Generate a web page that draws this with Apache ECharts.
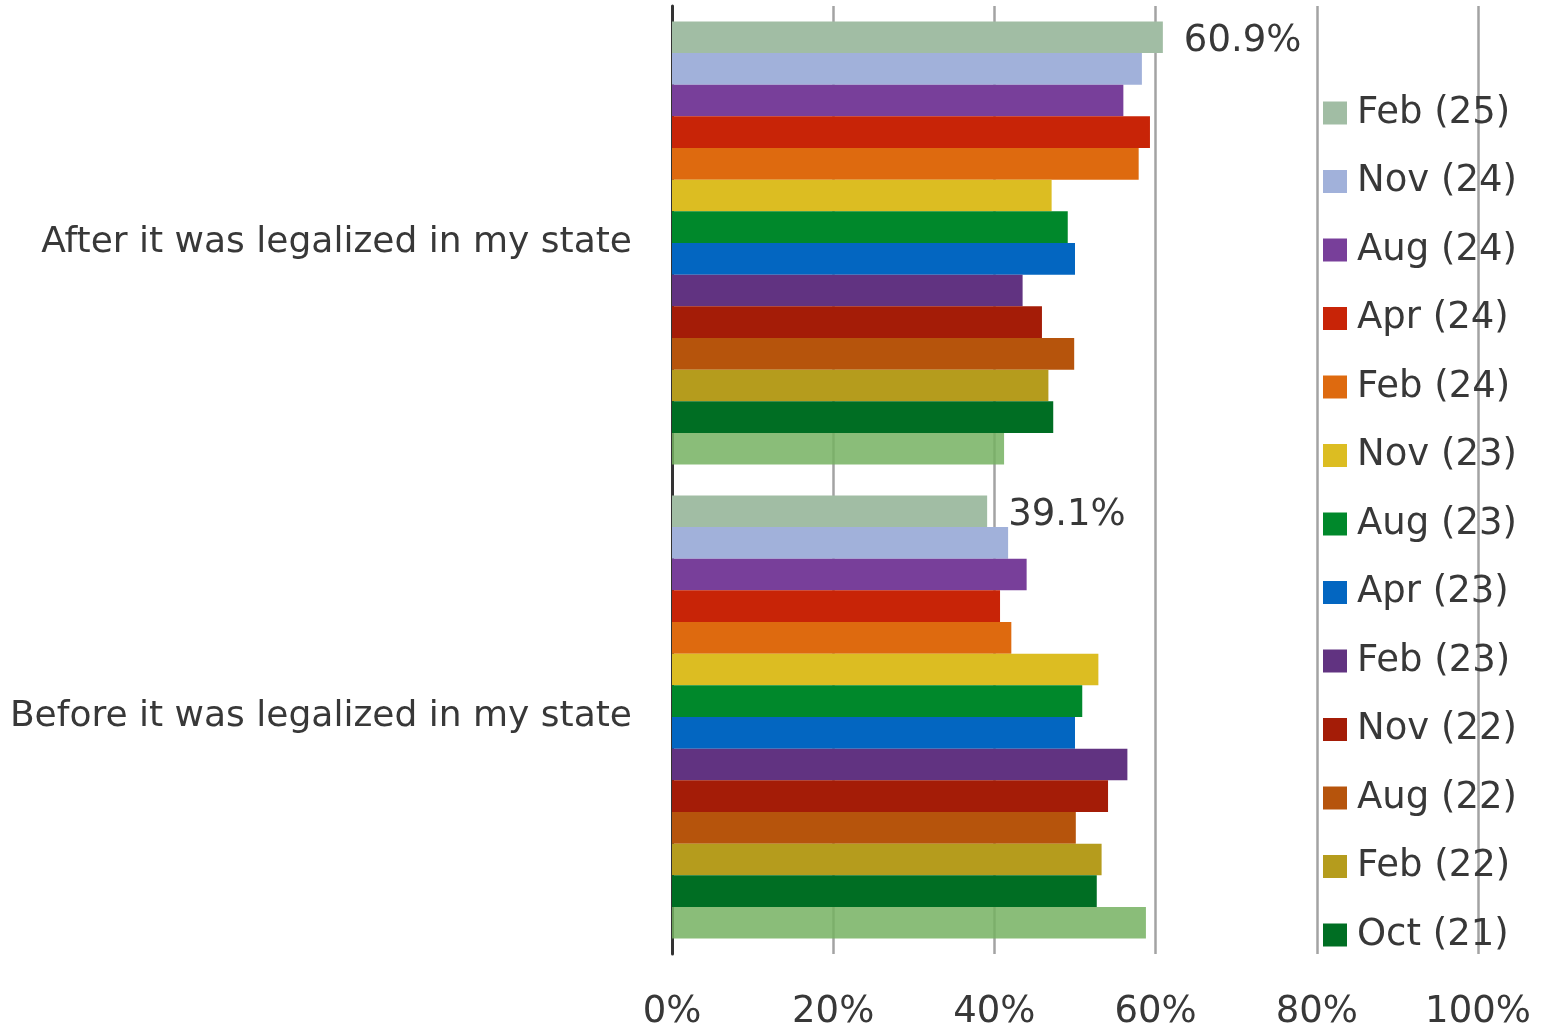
<!DOCTYPE html>
<html>
<head>
<meta charset="utf-8">
<script src="https://cdn.jsdelivr.net/npm/echarts@6/dist/echarts.min.js"></script>
<style>
  html, body { margin: 0; padding: 0; background: #ffffff; }
  #chart { width: 1552px; height: 1032px; }
</style>
</head>
<body>
<div id="chart"></div>
<script>
// Categories (top to bottom)
var categories = ['After it was legalized in my state', 'Before it was legalized in my state'];

// Survey waves (series), top bar to bottom bar within each group
var waveNames = ['Feb (25)', 'Nov (24)', 'Aug (24)', 'Apr (24)', 'Feb (24)', 'Nov (23)', 'Aug (23)',
                 'Apr (23)', 'Feb (23)', 'Nov (22)', 'Aug (22)', 'Feb (22)', 'Oct (21)', 'Earlier'];

// Values (%) for "After" and "Before", per wave
var afterValues  = [60.9, 58.3, 56.0, 59.3, 57.9, 47.1, 49.1, 50.0, 43.5, 45.9, 49.9, 46.7, 47.3, 41.2];
var beforeValues = [39.1, 41.7, 44.0, 40.7, 42.1, 52.9, 50.9, 50.0, 56.5, 54.1, 50.1, 53.3, 52.7, 58.8];

// Waves shown in the legend
var legendNames = waveNames.slice(0, 13);

// Axis ticks
var xTicks = [0, 20, 40, 60, 80, 100];

var colors = ['#A1BDA4', '#A1B1DA', '#783F9A', '#C82407', '#DE6A0F', '#DCBD22', '#00882B',
              '#0366C1', '#613381', '#A41C07', '#B6540C', '#B59C1D', '#006E23', '#76B261'];

var FONT = "'DejaVu Sans', sans-serif";
var TXT = '#383838';

var series = waveNames.map(function (name, i) {
  var s = {
    name: name,
    type: 'bar',
    barGap: '0%',
    barCategoryGap: '6.5%',
    data: [afterValues[i], beforeValues[i]],
    itemStyle: { color: colors[i], opacity: i === 13 ? 0.85 : 1 }
  };
  if (i === 0) {
    s.label = {
      show: true,
      position: 'right',
      distance: 21,
      offset: [0, 4],
      formatter: '{c}%',
      fontFamily: FONT,
      fontSize: 37,
      color: TXT
    };
  }
  return s;
});

var chart = echarts.init(document.getElementById('chart'), null, { renderer: 'canvas' });
chart.setOption({
  animation: false,
  backgroundColor: '#ffffff',
  grid: { left: 672, right: 74, top: 6, bottom: 78, containLabel: false },
  legend: {
    data: legendNames,
    orient: 'vertical',
    left: 1323,
    top: 93,
    padding: 0,
    itemWidth: 24,
    itemHeight: 23,
    itemGap: 28.5,
    icon: 'rect',
    selectedMode: false,
    textStyle: { fontFamily: FONT, fontSize: 37, color: TXT, lineHeight: 40, padding: [0, 0, 0, 5] }
  },
  xAxis: {
    type: 'value',
    min: xTicks[0],
    max: xTicks[xTicks.length - 1],
    interval: xTicks[1] - xTicks[0],
    axisLine: { show: false },
    axisTick: { show: false },
    splitLine: { show: true, lineStyle: { color: '#a3a3a3', width: 2.5 } },
    axisLabel: {
      formatter: '{value}%',
      fontFamily: FONT,
      fontSize: 37,
      color: TXT,
      margin: 40
    }
  },
  yAxis: {
    type: 'category',
    data: categories,
    inverse: true,
    axisLine: { show: true, lineStyle: { color: '#333333', width: 3 } },
    axisTick: { show: false },
    axisLabel: {
      fontFamily: FONT,
      fontSize: 36,
      color: TXT,
      margin: 40,
      padding: [12, 0, 0, 0]
    }
  },
  series: series
});
</script>
</body>
</html>
